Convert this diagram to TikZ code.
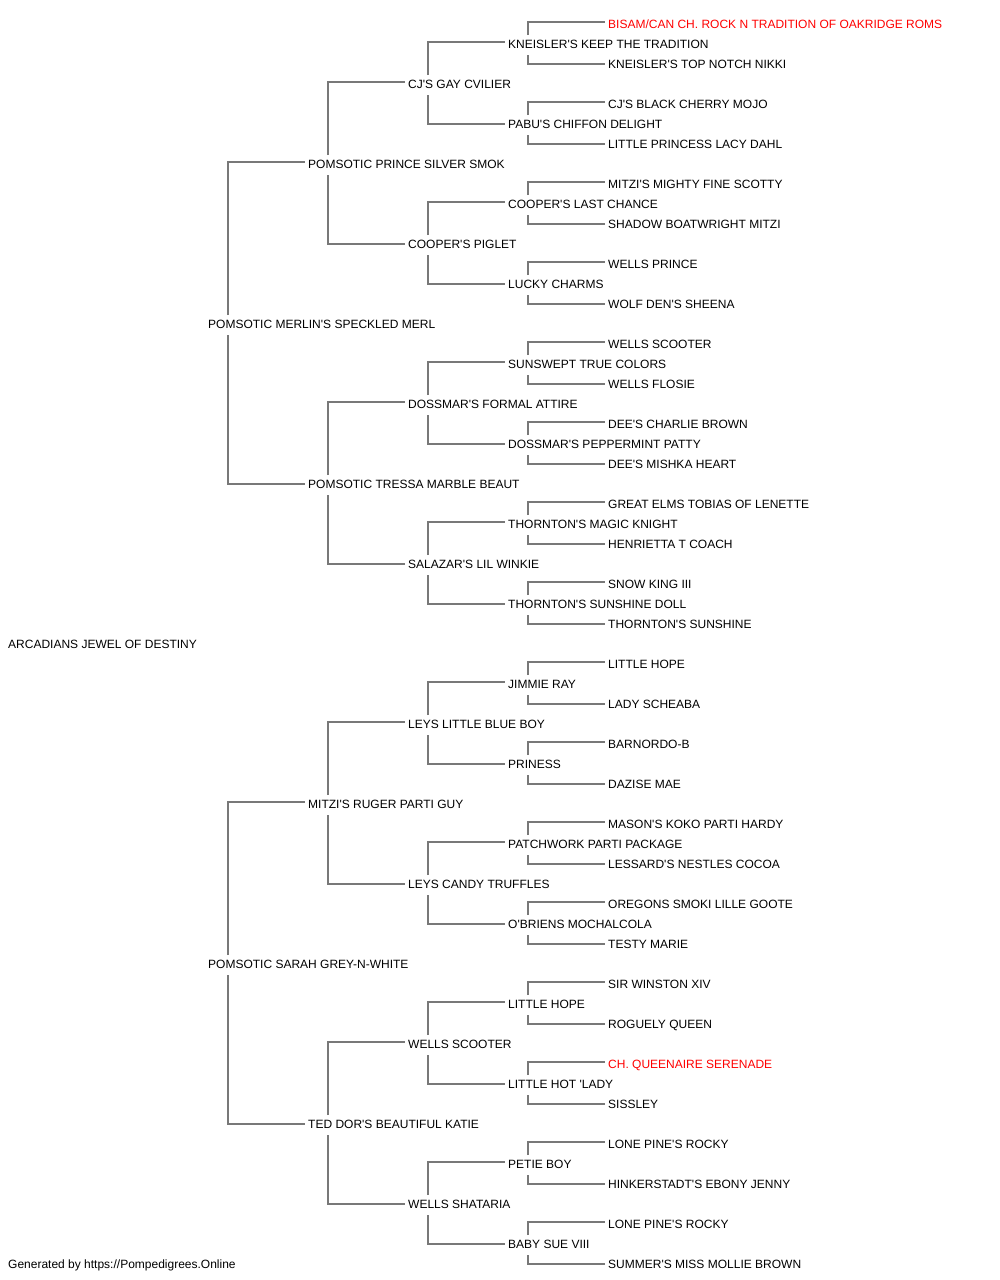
\documentclass[tikz,border=0pt]{standalone}
\usepackage{fontspec}
\setmainfont{Liberation Sans}
\usetikzlibrary{calc}
\definecolor{conncol}{RGB}{120,120,120}
\definecolor{redname}{RGB}{255,0,0}
\newcommand\ap{\textquotesingle}
\newcommand\br[3]{%
  \draw[conn] ($(#1.base west)+(20,-13)$) |- ($(#2.base west)+(-3,-6)$);
  \draw[conn] ($(#1.base west)+(20,7)$) |- ($(#3.base west)+(-3,-4)$);
}
\tikzset{
  lbl/.style={anchor=base west,inner sep=0pt,font=\fontsize{12}{14}\selectfont,text=black},
  redlbl/.style={lbl,text=redname},
  conn/.style={draw=conncol,line width=2pt}
}
\begin{document}
\begin{tikzpicture}[x=1pt,y=-1pt]
\useasboundingbox (0,0) rectangle (1000,1280);
% generation 0
\node[lbl] (n31) at (8,648) {ARCADIANS JEWEL OF DESTINY};
% generation 1
\node[lbl] (n15) at (208,328) {POMSOTIC MERLIN\ap S SPECKLED MERL};
\node[lbl] (n47) at (208,968) {POMSOTIC SARAH GREY-N-WHITE};
% generation 2
\node[lbl] (n7) at (308,168) {POMSOTIC PRINCE SILVER SMOK};
\node[lbl] (n23) at (308,488) {POMSOTIC TRESSA MARBLE BEAUT};
\node[lbl] (n39) at (308,808) {MITZI\ap S RUGER PARTI GUY};
\node[lbl] (n55) at (308,1128) {TED DOR\ap S BEAUTIFUL KATIE};
% generation 3
\node[lbl] (n3) at (408,88) {CJ\ap S GAY CVILIER};
\node[lbl] (n11) at (408,248) {COOPER\ap S PIGLET};
\node[lbl] (n19) at (408,408) {DOSSMAR\ap S FORMAL ATTIRE};
\node[lbl] (n27) at (408,568) {SALAZAR\ap S LIL WINKIE};
\node[lbl] (n35) at (408,728) {LEYS LITTLE BLUE BOY};
\node[lbl] (n43) at (408,888) {LEYS CANDY TRUFFLES};
\node[lbl] (n51) at (408,1048) {WELLS SCOOTER};
\node[lbl] (n59) at (408,1208) {WELLS SHATARIA};
% generation 4
\node[lbl] (n1) at (508,48) {KNEISLER\ap S KEEP THE TRADITION};
\node[lbl] (n5) at (508,128) {PABU\ap S CHIFFON DELIGHT};
\node[lbl] (n9) at (508,208) {COOPER\ap S LAST CHANCE};
\node[lbl] (n13) at (508,288) {LUCKY CHARMS};
\node[lbl] (n17) at (508,368) {SUNSWEPT TRUE COLORS};
\node[lbl] (n21) at (508,448) {DOSSMAR\ap S PEPPERMINT PATTY};
\node[lbl] (n25) at (508,528) {THORNTON\ap S MAGIC KNIGHT};
\node[lbl] (n29) at (508,608) {THORNTON\ap S SUNSHINE DOLL};
\node[lbl] (n33) at (508,688) {JIMMIE RAY};
\node[lbl] (n37) at (508,768) {PRINESS};
\node[lbl] (n41) at (508,848) {PATCHWORK PARTI PACKAGE};
\node[lbl] (n45) at (508,928) {O\ap BRIENS MOCHALCOLA};
\node[lbl] (n49) at (508,1008) {LITTLE HOPE};
\node[lbl] (n53) at (508,1088) {LITTLE HOT \ap LADY};
\node[lbl] (n57) at (508,1168) {PETIE BOY};
\node[lbl] (n61) at (508,1248) {BABY SUE VIII};
% generation 5
\node[redlbl] (n0) at (608,28) {BISAM/CAN CH. ROCK N TRADITION OF OAKRIDGE ROMS};
\node[lbl] (n2) at (608,68) {KNEISLER\ap S TOP NOTCH NIKKI};
\node[lbl] (n4) at (608,108) {CJ\ap S BLACK CHERRY MOJO};
\node[lbl] (n6) at (608,148) {LITTLE PRINCESS LACY DAHL};
\node[lbl] (n8) at (608,188) {MITZI\ap S MIGHTY FINE SCOTTY};
\node[lbl] (n10) at (608,228) {SHADOW BOATWRIGHT MITZI};
\node[lbl] (n12) at (608,268) {WELLS PRINCE};
\node[lbl] (n14) at (608,308) {WOLF DEN\ap S SHEENA};
\node[lbl] (n16) at (608,348) {WELLS SCOOTER};
\node[lbl] (n18) at (608,388) {WELLS FLOSIE};
\node[lbl] (n20) at (608,428) {DEE\ap S CHARLIE BROWN};
\node[lbl] (n22) at (608,468) {DEE\ap S MISHKA HEART};
\node[lbl] (n24) at (608,508) {GREAT ELMS TOBIAS OF LENETTE};
\node[lbl] (n26) at (608,548) {HENRIETTA T COACH};
\node[lbl] (n28) at (608,588) {SNOW KING III};
\node[lbl] (n30) at (608,628) {THORNTON\ap S SUNSHINE};
\node[lbl] (n32) at (608,668) {LITTLE HOPE};
\node[lbl] (n34) at (608,708) {LADY SCHEABA};
\node[lbl] (n36) at (608,748) {BARNORDO-B};
\node[lbl] (n38) at (608,788) {DAZISE MAE};
\node[lbl] (n40) at (608,828) {MASON\ap S KOKO PARTI HARDY};
\node[lbl] (n42) at (608,868) {LESSARD\ap S NESTLES COCOA};
\node[lbl] (n44) at (608,908) {OREGONS SMOKI LILLE GOOTE};
\node[lbl] (n46) at (608,948) {TESTY MARIE};
\node[lbl] (n48) at (608,988) {SIR WINSTON XIV};
\node[lbl] (n50) at (608,1028) {ROGUELY QUEEN};
\node[redlbl] (n52) at (608,1068) {CH. QUEENAIRE SERENADE};
\node[lbl] (n54) at (608,1108) {SISSLEY};
\node[lbl] (n56) at (608,1148) {LONE PINE\ap S ROCKY};
\node[lbl] (n58) at (608,1188) {HINKERSTADT\ap S EBONY JENNY};
\node[lbl] (n60) at (608,1228) {LONE PINE\ap S ROCKY};
\node[lbl] (n62) at (608,1268) {SUMMER\ap S MISS MOLLIE BROWN};
% footer
\node[lbl] (foot) at (8,1268) {Generated by https://Pompedigrees.Online};
% connectors
\foreach \p in {1,5,...,61}{\pgfmathtruncatemacro\mysire{\p-1}\pgfmathtruncatemacro\mydam{\p+1}\br{n\p}{n\mysire}{n\mydam}}
\foreach \p in {3,11,...,59}{\pgfmathtruncatemacro\mysire{\p-2}\pgfmathtruncatemacro\mydam{\p+2}\br{n\p}{n\mysire}{n\mydam}}
\foreach \p in {7,23,...,55}{\pgfmathtruncatemacro\mysire{\p-4}\pgfmathtruncatemacro\mydam{\p+4}\br{n\p}{n\mysire}{n\mydam}}
\foreach \p in {15,47}{\pgfmathtruncatemacro\mysire{\p-8}\pgfmathtruncatemacro\mydam{\p+8}\br{n\p}{n\mysire}{n\mydam}}
\end{tikzpicture}
\end{document}
